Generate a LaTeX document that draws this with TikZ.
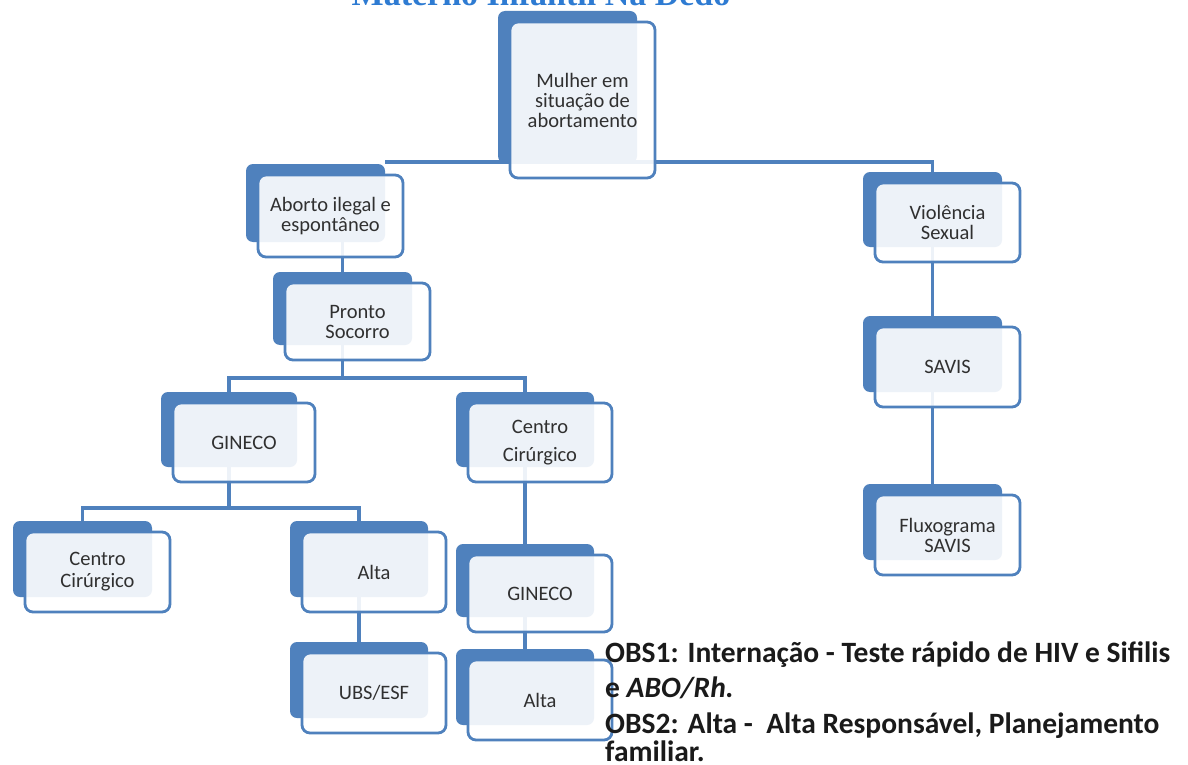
\documentclass[tikz,border=0pt]{standalone}
\usepackage{fontspec}
\setmainfont{Carlito}
\newfontfamily\titlefont{Liberation Serif}
\usetikzlibrary{calc,backgrounds}
\definecolor{bblue}{HTML}{4F81BD}
\definecolor{tgray}{HTML}{303030}
\definecolor{ttl}{HTML}{2E7BD2}
\definecolor{obsc}{HTML}{1A1A1A}
% #1 name, #2 x1, #3 y1, #4 x2, #5 y2 (front box), #6 text
\newcommand\orgbox[6]{%
  \node[backbox, minimum width={#4-#2-6}, minimum height={#5-#3-4}]
    (#1b) at ({(#2+#4)/2-15},{(#3+#5)/2-13}) {};
  \node[frontbox, minimum width={#4-#2}, minimum height={#5-#3}]
    (#1) at ({(#2+#4)/2},{(#3+#5)/2}) {#6};
}
\begin{document}
\begin{tikzpicture}[x=1pt,y=-1pt,
  backbox/.style={fill=bblue, rounded corners=7pt, inner sep=0pt, outer sep=0pt},
  frontbox/.style={fill=white, fill opacity=0.9, text opacity=1, draw=bblue,
    line width=2.8pt, rounded corners=8pt, inner sep=0pt, outer sep=0pt,
    align=center, text=tgray, font=\fontsize{20.5}{20}\selectfont},
  conn/.style={draw=bblue, line width=3.6pt},
  obs/.style={anchor=base west, inner sep=0pt, text=obsc,
    font=\bfseries\fontsize{29.5}{35}\selectfont},
  ttlstyle/.style={anchor=base, inner sep=0pt, text=ttl,
    font=\titlefont\bfseries\fontsize{34}{34}\selectfont}]
\useasboundingbox (0,0) rectangle (1188,765);
\clip (0,0) rectangle (1188,765);
\node[ttlstyle] (title) at (541,6) {Materno Infantil Na Dedo};

\orgbox{top}{510}{22}{655}{178}{Mulher em\\situação de\\abortamento}
\orgbox{aborto}{258}{175}{403}{257}{Aborto ilegal e\\espontâneo}
\orgbox{pronto}{285}{283}{430}{360}{Pronto\\Socorro}
\orgbox{gin}{173}{403}{315}{482}{GINECO}
\orgbox{ccm}{468}{403}{612}{482}{Centro\\[8pt]Cirúrgico}
\orgbox{ccl}{25}{532}{170}{612}{Centro\\[2pt]Cirúrgico}
\orgbox{altal}{302}{532}{446}{612}{Alta}
\orgbox{ubs}{302}{653}{446}{733}{UBS/ESF}
\orgbox{gintwo}{468}{555}{612}{632}{GINECO}
\orgbox{altam}{468}{660}{612}{740}{Alta}
\orgbox{viol}{875}{183}{1020}{262}{Violência\\Sexual}
\orgbox{savis}{875}{327}{1020}{407}{SAVIS}
\orgbox{flux}{875}{495}{1020}{575}{Fluxograma\\SAVIS}

\begin{scope}[on background layer]
  \fill[white] (0,0) rectangle (1188,765);
  \coordinate (bus0) at (0,162);
  \coordinate (bus1) at (0,378);
  \coordinate (bus2) at (0,508);
  \draw[conn] (abortob.north east |- bus0) -- (violb.north |- bus0) -- (violb.north);
  \draw[conn] (prontob.north |- abortob.south) -- (prontob.north);
  \draw[conn] (prontob.south) -- (prontob.south |- bus1);
  \draw[conn] (ginb.north) |- (ccmb.north |- bus1) -- (ccmb.north);
  \draw[conn] (ginb.south) -- (ginb.south |- bus2);
  \draw[conn] (cclb.north) |- (altalb.north |- bus2) -- (altalb.north);
  \draw[conn] (altalb.south) -- (ubsb.north);
  \draw[conn] (ccmb.south) -- (gintwob.north);
  \draw[conn] (gintwob.south) -- (altamb.north);
  \draw[conn] (violb.south) -- (savisb.north);
  \draw[conn] (savisb.south) -- (fluxb.north);
\end{scope}

\node[obs] (obs1) at (605,662) {OBS1: Internação - Teste rápido de HIV e Sifilis};
\node[obs] (obs2) at (605,697) {e \textit{ABO/Rh.}};
\node[obs] (obs3) at (605,733) {OBS2: Alta - \ Alta Responsável, Planejamento};
\node[obs] (obs4) at (605,761) {familiar.};
\end{tikzpicture}
\end{document}
